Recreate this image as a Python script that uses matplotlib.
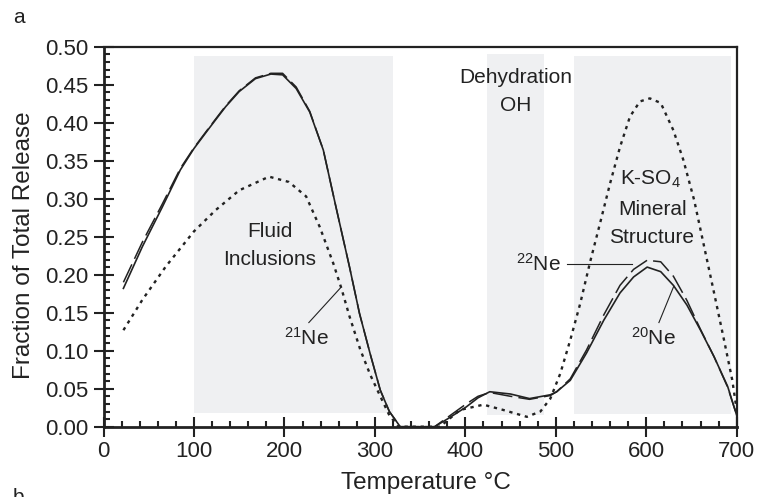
import matplotlib
matplotlib.use("Agg")
import matplotlib.pyplot as plt
from matplotlib.ticker import MultipleLocator, FormatStrFormatter

plt.rcParams['font.family'] = ['Liberation Sans', 'DejaVu Sans']
plt.rcParams['mathtext.fontset'] = 'custom'
plt.rcParams['mathtext.rm'] = 'Liberation Sans'
plt.rcParams['mathtext.it'] = 'Liberation Sans:italic'
plt.rcParams['mathtext.bf'] = 'Liberation Sans:bold'

INK = '#222222'
SHADE = '#eff0f2'

# 20Ne (solid)
t20 = [22, 43, 65, 85, 100, 117, 135, 150, 168, 185, 198, 213, 228, 243, 257, 272, 283, 295, 306, 316, 328,
       366, 380, 401, 414, 427, 450, 471, 494, 501, 516, 534, 553, 571, 586, 601, 616, 630, 645, 660, 675, 690, 700]
ne20 = [0.182, 0.237, 0.289, 0.338, 0.366, 0.393, 0.421, 0.441, 0.458, 0.464, 0.463, 0.445, 0.414, 0.364, 0.289,
        0.210, 0.149, 0.095, 0.048, 0.020, 0.0, 0.0, 0.010, 0.026, 0.038, 0.046, 0.043, 0.037, 0.042, 0.046,
        0.061, 0.097, 0.140, 0.176, 0.197, 0.210, 0.204, 0.186, 0.160, 0.127, 0.092, 0.053, 0.015]

# 22Ne (long dash)
t22 = t20
ne22 = [0.190, 0.243, 0.293, 0.340, 0.367, 0.394, 0.422, 0.442, 0.459, 0.465, 0.465, 0.447, 0.415, 0.364, 0.289,
        0.210, 0.149, 0.095, 0.048, 0.020, 0.0, 0.0, 0.012, 0.030, 0.040, 0.045, 0.040, 0.036, 0.041, 0.046,
        0.063, 0.101, 0.147, 0.186, 0.207, 0.219, 0.217, 0.198, 0.166, 0.128, 0.092, 0.052, 0.015]

# 21Ne (dotted)
t21 = [22, 43, 69, 100, 124, 150, 183, 205, 224, 239, 254, 263, 272, 284, 295, 306, 316, 326, 372, 394, 420,
       442, 468, 483, 494, 505, 516, 527, 538, 549, 560, 571, 582, 593, 604, 616, 630, 641, 653, 664, 675, 686,
       695, 700]
ne21 = [0.127, 0.167, 0.211, 0.257, 0.285, 0.311, 0.329, 0.322, 0.303, 0.263, 0.215, 0.182, 0.145, 0.101, 0.068,
        0.040, 0.015, 0.0, 0.0, 0.022, 0.029, 0.022, 0.013, 0.020, 0.037, 0.070, 0.114, 0.162, 0.217, 0.268,
        0.320, 0.368, 0.408, 0.428, 0.432, 0.426, 0.390, 0.351, 0.298, 0.237, 0.176, 0.114, 0.062, 0.022]

# shaded release stages: (T start, T end, bottom, top)
stages = [(100, 320, 0.018, 0.488), (424, 487, 0.016, 0.490), (520, 694, 0.017, 0.488)]

fig = plt.figure(figsize=(7.6, 4.97), dpi=100)
ax = fig.add_axes([103.5 / 760, 70.3 / 497, 633.2 / 760, 380 / 497])

for x0, x1, y0, y1 in stages:
    ax.fill_between([x0, x1], y0, y1, color=SHADE, lw=0, zorder=0)

ax.plot(t21, ne21, color=INK, lw=1.7, linestyle=(0, (1.4, 2.0)), zorder=3)
ax.plot(t22, ne22, color=INK, lw=1.1, linestyle=(0, (13, 4)), zorder=3)
ax.plot(t20, ne20, color=INK, lw=1.2, zorder=4)

ax.set_xlim(0, 700)
ax.set_ylim(0, 0.5)
ax.xaxis.set_major_locator(MultipleLocator(100))
ax.xaxis.set_minor_locator(MultipleLocator(20))
ax.yaxis.set_major_locator(MultipleLocator(0.05))
ax.yaxis.set_minor_locator(MultipleLocator(0.01))
ax.yaxis.set_major_formatter(FormatStrFormatter('%.2f'))
ax.tick_params(which='major', direction='inout', length=14, width=1.5, color=INK,
               labelsize=16, labelcolor=INK)
ax.tick_params(axis='y', which='major', pad=4)
ax.tick_params(axis='x', which='major', pad=3)
ax.tick_params(which='minor', direction='in', length=4.5, width=1.5, color=INK)

for side in ['left', 'bottom']:
    ax.spines[side].set_linewidth(2.0)
for side in ['top', 'right']:
    ax.spines[side].set_linewidth(1.6)
for s in ax.spines.values():
    s.set_color(INK)
    s.set_zorder(5)

ax.set_xlabel('Temperature °C', fontsize=17.5, color=INK)
ax.set_ylabel('Fraction of Total Release', fontsize=17.5, color=INK)
ax.xaxis.set_label_coords(0.509, -0.118)
ax.yaxis.set_label_coords(-0.108, 0.477)

txt = dict(fontsize=15, color=INK, ha='center', va='baseline', zorder=6)
ax.text(183.5, 0.250, 'Fluid', **txt)
ax.text(183.5, 0.213, 'Inclusions', **txt)
ax.text(456, 0.452, 'Dehydration', **txt)
ax.text(456, 0.415, 'OH', **txt)
ax.text(605, 0.319, 'K-SO$_4$', **txt)
ax.text(606.5, 0.2786, 'Mineral', **txt)
ax.text(605.5, 0.242, 'Structure', **txt)

ax.text(224.5, 0.1075, '$^{21}$Ne', **txt)
ax.plot([227, 263], [0.137, 0.184], color=INK, lw=0.8, zorder=6)
ax.text(481, 0.205, '$^{22}$Ne', **txt)
ax.plot([512, 584], [0.2137, 0.2137], color=INK, lw=0.8, zorder=6)
ax.text(608, 0.1075, '$^{20}$Ne', **txt)
ax.plot([614, 630.5], [0.137, 0.185], color=INK, lw=0.8, zorder=6)

fig.text(13 / 760, 1 - 8 / 497, 'a', fontsize=15, color=INK, va='top', ha='left')
fig.text(13 / 760, 1 - 488 / 497, 'b', fontsize=15, color=INK, va='top', ha='left')

fig.savefig('out.png', dpi=100, facecolor='white')
